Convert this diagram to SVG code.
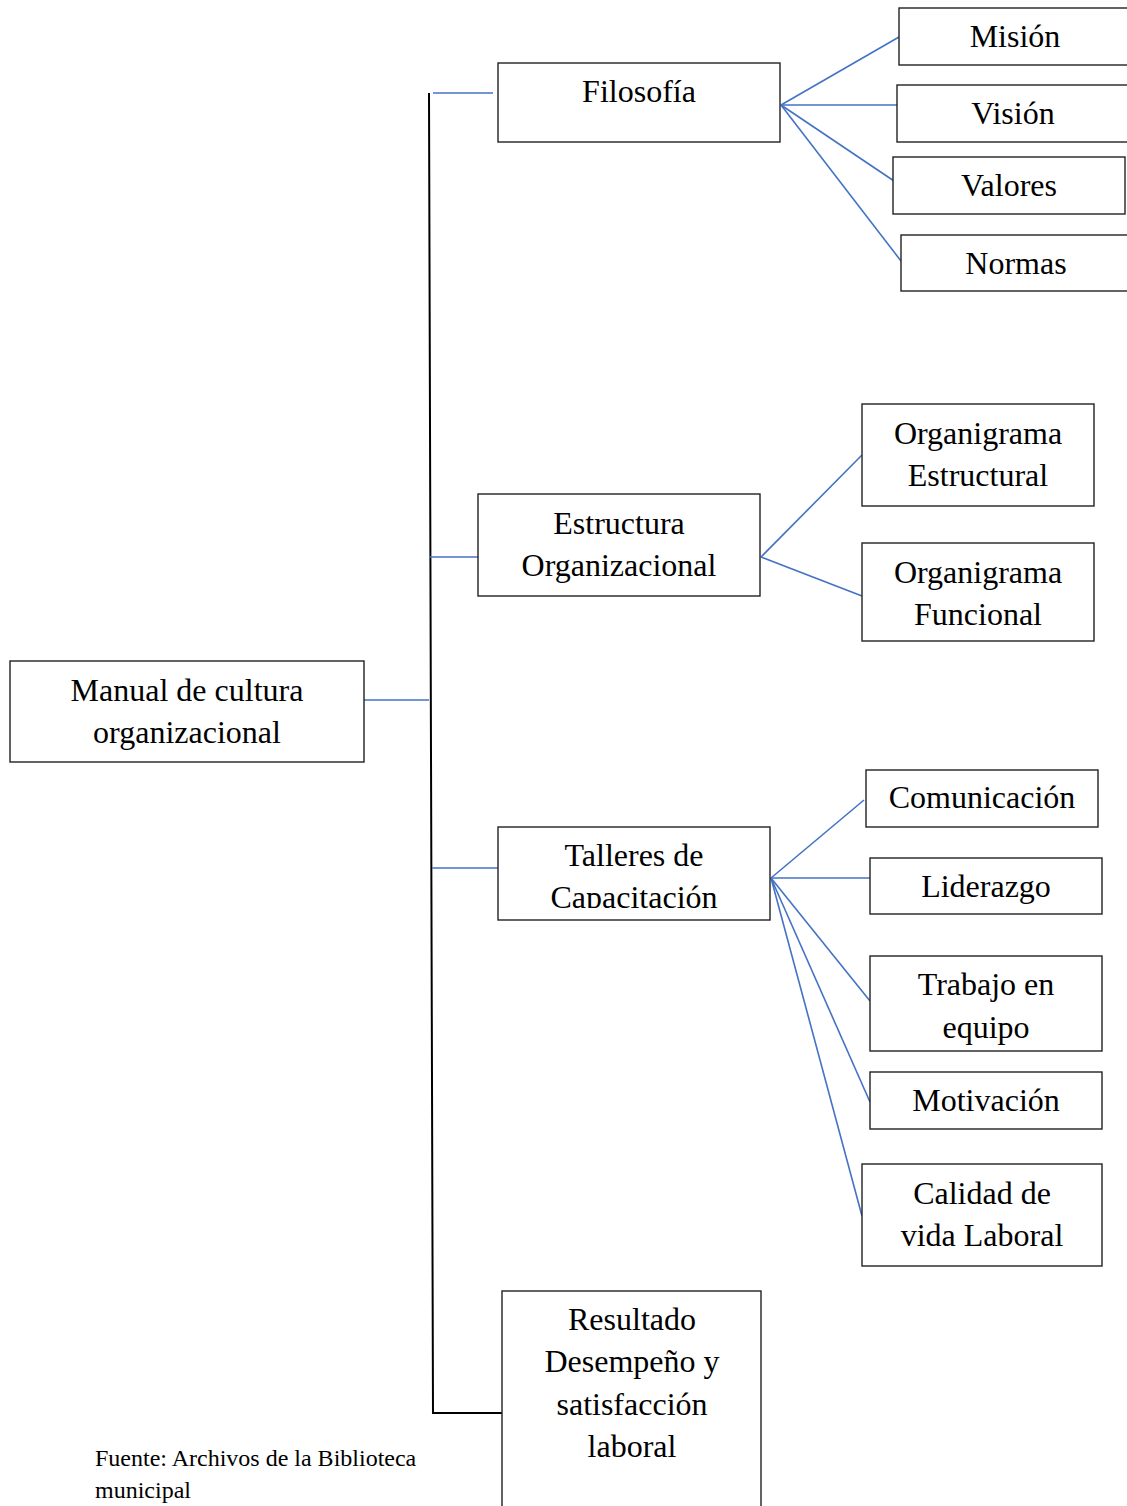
<svg xmlns="http://www.w3.org/2000/svg" width="1127" height="1506" viewBox="0 0 1127 1506">
  <style>
    .box { fill: #ffffff; stroke: #222222; stroke-width: 1.4; }
    .lbl { font-family: "Liberation Serif", "Times New Roman", serif; font-size: 32px; fill: #000000; text-anchor: middle; }
    .note { font-family: "Liberation Serif", "Times New Roman", serif; font-size: 24px; fill: #000000; }
    .link { stroke: #4472C4; stroke-width: 1.6; fill: none; }
    .trunk { stroke: #000000; stroke-width: 2; fill: none; }
  </style>
  <defs>
    <clipPath id="clipTalleres">
      <rect x="498" y="827" width="272" height="81"/>
    </clipPath>
  </defs>
  <rect width="1127" height="1506" fill="#ffffff"/>

  <!-- connectors -->
  <g id="connectors">
    <polyline class="trunk" points="429,93 433,1413 502,1413"/>
    <line class="link" x1="433" y1="93" x2="493" y2="93"/>
    <line class="link" x1="429" y1="557" x2="478" y2="557"/>
    <line class="link" x1="364" y1="700" x2="429" y2="700"/>
    <line class="link" x1="432" y1="868" x2="498" y2="868"/>
    <!-- Filosofía branches -->
    <line class="link" x1="781" y1="105" x2="899" y2="37"/>
    <line class="link" x1="781" y1="105" x2="899" y2="105"/>
    <line class="link" x1="781" y1="105" x2="897" y2="183"/>
    <line class="link" x1="781" y1="105" x2="901" y2="261"/>
    <!-- Estructura branches -->
    <line class="link" x1="761" y1="557" x2="862" y2="455"/>
    <line class="link" x1="761" y1="557" x2="862" y2="596"/>
    <!-- Talleres branches -->
    <line class="link" x1="771" y1="878" x2="864" y2="800"/>
    <line class="link" x1="771" y1="878" x2="870" y2="878"/>
    <line class="link" x1="771" y1="878" x2="870" y2="1001"/>
    <line class="link" x1="771" y1="878" x2="870" y2="1102"/>
    <line class="link" x1="771" y1="878" x2="862" y2="1216"/>
  </g>

  <g id="manual">
    <rect class="box" x="10" y="661" width="354" height="101"/>
    <text class="lbl" x="187" y="701">Manual de cultura</text>
    <text class="lbl" x="187" y="743">organizacional</text>
  </g>

  <g id="filosofia">
    <rect class="box" x="498" y="63" width="282" height="79"/>
    <text class="lbl" x="639" y="102">Filosofía</text>
  </g>
  <g id="mision">
    <rect class="box" x="899" y="8" width="232" height="57"/>
    <text class="lbl" x="1015" y="47">Misión</text>
  </g>
  <g id="vision">
    <rect class="box" x="897" y="85" width="234" height="57"/>
    <text class="lbl" x="1013" y="124">Visión</text>
  </g>
  <g id="valores">
    <rect class="box" x="893" y="157" width="232" height="57"/>
    <text class="lbl" x="1009" y="196">Valores</text>
  </g>
  <g id="normas">
    <rect class="box" x="901" y="235" width="230" height="56"/>
    <text class="lbl" x="1016" y="274">Normas</text>
  </g>

  <g id="estructura">
    <rect class="box" x="478" y="494" width="282" height="102"/>
    <text class="lbl" x="619" y="534">Estructura</text>
    <text class="lbl" x="619" y="576">Organizacional</text>
  </g>
  <g id="org-estructural">
    <rect class="box" x="862" y="404" width="232" height="102"/>
    <text class="lbl" x="978" y="444">Organigrama</text>
    <text class="lbl" x="978" y="486">Estructural</text>
  </g>
  <g id="org-funcional">
    <rect class="box" x="862" y="543" width="232" height="98"/>
    <text class="lbl" x="978" y="583">Organigrama</text>
    <text class="lbl" x="978" y="625">Funcional</text>
  </g>

  <g id="talleres">
    <rect class="box" x="498" y="827" width="272" height="93"/>
    <g clip-path="url(#clipTalleres)">
      <text class="lbl" x="634" y="866">Talleres de</text>
      <text class="lbl" x="634" y="908">Capacitación</text>
    </g>
  </g>
  <g id="comunicacion">
    <rect class="box" x="866" y="770" width="232" height="57"/>
    <text class="lbl" x="982" y="808">Comunicación</text>
  </g>
  <g id="liderazgo">
    <rect class="box" x="870" y="858" width="232" height="56"/>
    <text class="lbl" x="986" y="897">Liderazgo</text>
  </g>
  <g id="trabajo">
    <rect class="box" x="870" y="956" width="232" height="95"/>
    <text class="lbl" x="986" y="995">Trabajo en</text>
    <text class="lbl" x="986" y="1038">equipo</text>
  </g>
  <g id="motivacion">
    <rect class="box" x="870" y="1072" width="232" height="57"/>
    <text class="lbl" x="986" y="1111">Motivación</text>
  </g>
  <g id="calidad">
    <rect class="box" x="862" y="1164" width="240" height="102"/>
    <text class="lbl" x="982" y="1204">Calidad de</text>
    <text class="lbl" x="982" y="1246">vida Laboral</text>
  </g>

  <g id="resultado">
    <rect class="box" x="502" y="1291" width="259" height="230"/>
    <text class="lbl" x="632" y="1330">Resultado</text>
    <text class="lbl" x="632" y="1372">Desempeño y</text>
    <text class="lbl" x="632" y="1415">satisfacción</text>
    <text class="lbl" x="632" y="1457">laboral</text>
  </g>

  <g id="fuente">
    <text class="note" x="95" y="1466">Fuente: Archivos de la Biblioteca</text>
    <text class="note" x="95" y="1498">municipal</text>
  </g>
</svg>
